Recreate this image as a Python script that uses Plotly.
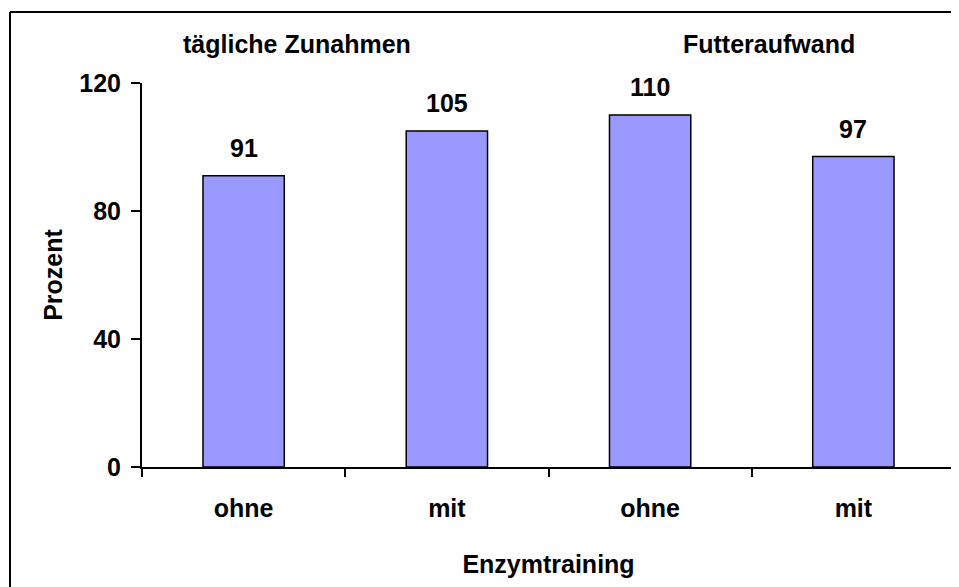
import plotly.graph_objects as go

categories = ["ohne", "mit", "ohne", "mit"]
values = [91, 105, 110, 97]
group_titles = ["tägliche Zunahmen", "Futteraufwand"]
y_ticks = [0, 40, 80, 120]

x_pos = list(range(len(categories)))
FONT = "Arial, Liberation Sans, sans-serif"
FS = 25

# page body has an 8px margin; place the plot area at x 142..955, y 83..467
# in the 959x587 window
OFF = 8
FIG_W, FIG_H = 951, 579
L, T = 142 - OFF, 83 - OFF
R = FIG_W - (955 - OFF)
B = FIG_H - (467 - OFF)
W = FIG_W - L - R
H = FIG_H - T - B

def px(xp):
    return (xp - OFF - L) / W
def py(yp):
    return (FIG_H - B - (yp - OFF)) / H

fig = go.Figure()
fig.add_trace(go.Bar(
    x=x_pos, y=values,
    marker=dict(color="#9999FF", line=dict(color="black", width=1.5)),
    width=0.4,
))

for xi, v in zip(x_pos, values):
    fig.add_annotation(x=xi, y=v, text=str(v), showarrow=False,
                       yanchor="bottom", yshift=12,
                       font=dict(family=FONT, size=FS, color="black", weight="bold"))

fig.add_annotation(x=px(181), y=py(44), xref="paper", yref="paper", text=group_titles[0],
                   showarrow=False, xanchor="left", yanchor="middle",
                   font=dict(family=FONT, size=FS, color="black", weight="bold"))
fig.add_annotation(x=px(857), y=py(44), xref="paper", yref="paper", text=group_titles[1],
                   showarrow=False, xanchor="right", yanchor="middle",
                   font=dict(family=FONT, size=FS, color="black", weight="bold"))

# outer frame: only its left and top edges are inside the window
fig.add_shape(type="line", xref="paper", yref="paper",
              x0=px(10), x1=px(10), y0=py(12), y1=py(620),
              line=dict(color="black", width=2), layer="below")
fig.add_shape(type="line", xref="paper", yref="paper",
              x0=px(10), x1=px(1000), y0=py(12), y1=py(12),
              line=dict(color="black", width=2), layer="below")

fig.update_layout(
    width=FIG_W, height=FIG_H,
    margin=dict(l=L, r=R, t=T, b=B),
    paper_bgcolor="white", plot_bgcolor="white",
    showlegend=False,
    font=dict(family=FONT, size=FS, color="black", weight="bold"),
    xaxis=dict(
        range=[-0.5, 3.5], tickvals=x_pos, ticktext=categories,
        ticks="", showgrid=False, zeroline=False,
        showline=True, linecolor="black", linewidth=2,
        ticklabelstandoff=18,
        minor=dict(tickvals=[-0.5, 0.5, 1.5, 2.5, 3.5], ticks="outside",
                   ticklen=8, tickwidth=1.5, tickcolor="black", showgrid=False),
        title=dict(text="Enzymtraining", standoff=34,
                   font=dict(family=FONT, size=FS, weight="bold")),
        fixedrange=True,
    ),
    yaxis=dict(
        range=[0, 120], tickvals=y_ticks, ticks="outside", ticklen=9,
        tickwidth=1.5, tickcolor="black", showgrid=False, zeroline=False,
        showline=True, linecolor="black", linewidth=2,
        ticklabelstandoff=5,
        title=dict(text="Prozent", standoff=10,
                   font=dict(family=FONT, size=FS, weight="bold")),
        fixedrange=True,
    ),
)

fig.write_html("out.html")
